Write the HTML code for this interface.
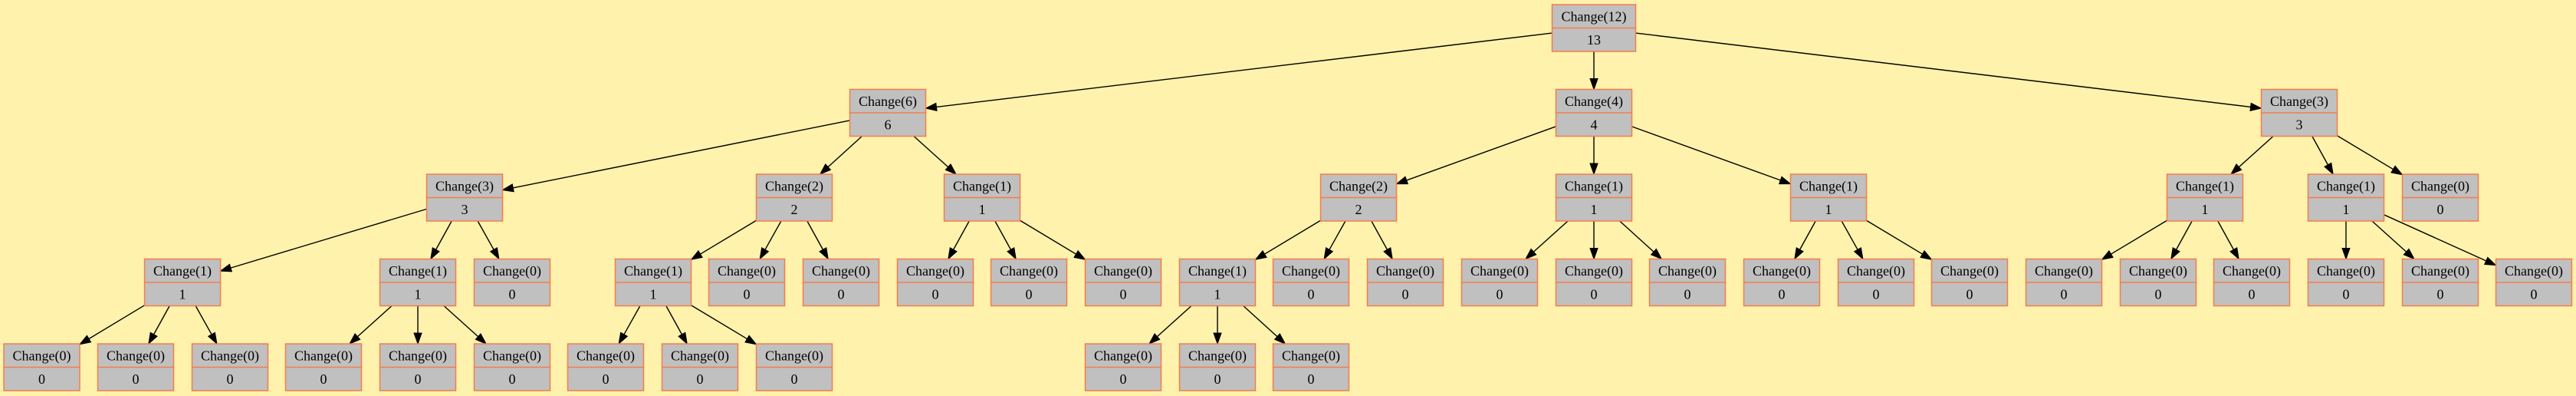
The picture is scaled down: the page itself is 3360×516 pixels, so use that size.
<!DOCTYPE html>
<html><head><meta charset="utf-8"><style>
html,body{margin:0;padding:0;background:#fff2ac;}
svg{display:block}
rect{fill:#c0c0c0;stroke:#f47c4c;stroke-width:1.5}
path.d{stroke:#f47c4c;stroke-width:1.5;fill:none}
text{font-family:"Liberation Serif",serif;font-size:18px;text-anchor:middle;fill:#000}
</style></head><body>
<svg id="s" width="3360" height="516" xmlns="http://www.w3.org/2000/svg">
<rect x="0" y="0" width="3360" height="516" style="fill:#fff2ac;stroke:none"/>
<g id="edges"></g>
<g id="nodes">
<g transform="translate(2079,6)"><rect x="-54.5" width="109" height="61"/><path class="d" d="M-54.5 30.5h109"/><text y="21.5">Change(12)</text><text y="52">13</text></g>

<g transform="translate(1158,116.5)"><rect x="-49.5" width="99" height="61"/><path class="d" d="M-49.5 30.5h99"/><text y="21.5">Change(6)</text><text y="52">6</text></g>
<g transform="translate(2079,116.5)"><rect x="-49.5" width="99" height="61"/><path class="d" d="M-49.5 30.5h99"/><text y="21.5">Change(4)</text><text y="52">4</text></g>
<g transform="translate(2999,116.5)"><rect x="-49.5" width="99" height="61"/><path class="d" d="M-49.5 30.5h99"/><text y="21.5">Change(3)</text><text y="52">3</text></g>

<g transform="translate(606,227)"><rect x="-49.5" width="99" height="61"/><path class="d" d="M-49.5 30.5h99"/><text y="21.5">Change(3)</text><text y="52">3</text></g>
<g transform="translate(1036,227)"><rect x="-49.5" width="99" height="61"/><path class="d" d="M-49.5 30.5h99"/><text y="21.5">Change(2)</text><text y="52">2</text></g>
<g transform="translate(1281,227)"><rect x="-49.5" width="99" height="61"/><path class="d" d="M-49.5 30.5h99"/><text y="21.5">Change(1)</text><text y="52">1</text></g>
<g transform="translate(1772,227)"><rect x="-49.5" width="99" height="61"/><path class="d" d="M-49.5 30.5h99"/><text y="21.5">Change(2)</text><text y="52">2</text></g>
<g transform="translate(2079,227)"><rect x="-49.5" width="99" height="61"/><path class="d" d="M-49.5 30.5h99"/><text y="21.5">Change(1)</text><text y="52">1</text></g>
<g transform="translate(2385,227)"><rect x="-49.5" width="99" height="61"/><path class="d" d="M-49.5 30.5h99"/><text y="21.5">Change(1)</text><text y="52">1</text></g>
<g transform="translate(2876,227)"><rect x="-49.5" width="99" height="61"/><path class="d" d="M-49.5 30.5h99"/><text y="21.5">Change(1)</text><text y="52">1</text></g>
<g transform="translate(3060,227)"><rect x="-49.5" width="99" height="61"/><path class="d" d="M-49.5 30.5h99"/><text y="21.5">Change(1)</text><text y="52">1</text></g>
<g transform="translate(3183,227)"><rect x="-49.5" width="99" height="61"/><path class="d" d="M-49.5 30.5h99"/><text y="21.5">Change(0)</text><text y="52">0</text></g>

<g transform="translate(238,337.5)"><rect x="-49.5" width="99" height="61"/><path class="d" d="M-49.5 30.5h99"/><text y="21.5">Change(1)</text><text y="52">1</text></g>
<g transform="translate(545,337.5)"><rect x="-49.5" width="99" height="61"/><path class="d" d="M-49.5 30.5h99"/><text y="21.5">Change(1)</text><text y="52">1</text></g>
<g transform="translate(668,337.5)"><rect x="-49.5" width="99" height="61"/><path class="d" d="M-49.5 30.5h99"/><text y="21.5">Change(0)</text><text y="52">0</text></g>
<g transform="translate(852,337.5)"><rect x="-49.5" width="99" height="61"/><path class="d" d="M-49.5 30.5h99"/><text y="21.5">Change(1)</text><text y="52">1</text></g>
<g transform="translate(974,337.5)"><rect x="-49.5" width="99" height="61"/><path class="d" d="M-49.5 30.5h99"/><text y="21.5">Change(0)</text><text y="52">0</text></g>
<g transform="translate(1097,337.5)"><rect x="-49.5" width="99" height="61"/><path class="d" d="M-49.5 30.5h99"/><text y="21.5">Change(0)</text><text y="52">0</text></g>
<g transform="translate(1220,337.5)"><rect x="-49.5" width="99" height="61"/><path class="d" d="M-49.5 30.5h99"/><text y="21.5">Change(0)</text><text y="52">0</text></g>
<g transform="translate(1342,337.5)"><rect x="-49.5" width="99" height="61"/><path class="d" d="M-49.5 30.5h99"/><text y="21.5">Change(0)</text><text y="52">0</text></g>
<g transform="translate(1465,337.5)"><rect x="-49.5" width="99" height="61"/><path class="d" d="M-49.5 30.5h99"/><text y="21.5">Change(0)</text><text y="52">0</text></g>
<g transform="translate(1588,337.5)"><rect x="-49.5" width="99" height="61"/><path class="d" d="M-49.5 30.5h99"/><text y="21.5">Change(1)</text><text y="52">1</text></g>
<g transform="translate(1710,337.5)"><rect x="-49.5" width="99" height="61"/><path class="d" d="M-49.5 30.5h99"/><text y="21.5">Change(0)</text><text y="52">0</text></g>
<g transform="translate(1833,337.5)"><rect x="-49.5" width="99" height="61"/><path class="d" d="M-49.5 30.5h99"/><text y="21.5">Change(0)</text><text y="52">0</text></g>
<g transform="translate(1956,337.5)"><rect x="-49.5" width="99" height="61"/><path class="d" d="M-49.5 30.5h99"/><text y="21.5">Change(0)</text><text y="52">0</text></g>
<g transform="translate(2079,337.5)"><rect x="-49.5" width="99" height="61"/><path class="d" d="M-49.5 30.5h99"/><text y="21.5">Change(0)</text><text y="52">0</text></g>
<g transform="translate(2201,337.5)"><rect x="-49.5" width="99" height="61"/><path class="d" d="M-49.5 30.5h99"/><text y="21.5">Change(0)</text><text y="52">0</text></g>
<g transform="translate(2324,337.5)"><rect x="-49.5" width="99" height="61"/><path class="d" d="M-49.5 30.5h99"/><text y="21.5">Change(0)</text><text y="52">0</text></g>
<g transform="translate(2447,337.5)"><rect x="-49.5" width="99" height="61"/><path class="d" d="M-49.5 30.5h99"/><text y="21.5">Change(0)</text><text y="52">0</text></g>
<g transform="translate(2569,337.5)"><rect x="-49.5" width="99" height="61"/><path class="d" d="M-49.5 30.5h99"/><text y="21.5">Change(0)</text><text y="52">0</text></g>
<g transform="translate(2692,337.5)"><rect x="-49.5" width="99" height="61"/><path class="d" d="M-49.5 30.5h99"/><text y="21.5">Change(0)</text><text y="52">0</text></g>
<g transform="translate(2815,337.5)"><rect x="-49.5" width="99" height="61"/><path class="d" d="M-49.5 30.5h99"/><text y="21.5">Change(0)</text><text y="52">0</text></g>
<g transform="translate(2937,337.5)"><rect x="-49.5" width="99" height="61"/><path class="d" d="M-49.5 30.5h99"/><text y="21.5">Change(0)</text><text y="52">0</text></g>
<g transform="translate(3060,337.5)"><rect x="-49.5" width="99" height="61"/><path class="d" d="M-49.5 30.5h99"/><text y="21.5">Change(0)</text><text y="52">0</text></g>
<g transform="translate(3183,337.5)"><rect x="-49.5" width="99" height="61"/><path class="d" d="M-49.5 30.5h99"/><text y="21.5">Change(0)</text><text y="52">0</text></g>
<g transform="translate(3305,337.5)"><rect x="-49.5" width="99" height="61"/><path class="d" d="M-49.5 30.5h99"/><text y="21.5">Change(0)</text><text y="52">0</text></g>

<g transform="translate(54.5,448)"><rect x="-49.5" width="99" height="61"/><path class="d" d="M-49.5 30.5h99"/><text y="21.5">Change(0)</text><text y="52">0</text></g>
<g transform="translate(177,448)"><rect x="-49.5" width="99" height="61"/><path class="d" d="M-49.5 30.5h99"/><text y="21.5">Change(0)</text><text y="52">0</text></g>
<g transform="translate(300,448)"><rect x="-49.5" width="99" height="61"/><path class="d" d="M-49.5 30.5h99"/><text y="21.5">Change(0)</text><text y="52">0</text></g>
<g transform="translate(422,448)"><rect x="-49.5" width="99" height="61"/><path class="d" d="M-49.5 30.5h99"/><text y="21.5">Change(0)</text><text y="52">0</text></g>
<g transform="translate(545,448)"><rect x="-49.5" width="99" height="61"/><path class="d" d="M-49.5 30.5h99"/><text y="21.5">Change(0)</text><text y="52">0</text></g>
<g transform="translate(668,448)"><rect x="-49.5" width="99" height="61"/><path class="d" d="M-49.5 30.5h99"/><text y="21.5">Change(0)</text><text y="52">0</text></g>
<g transform="translate(790,448)"><rect x="-49.5" width="99" height="61"/><path class="d" d="M-49.5 30.5h99"/><text y="21.5">Change(0)</text><text y="52">0</text></g>
<g transform="translate(913,448)"><rect x="-49.5" width="99" height="61"/><path class="d" d="M-49.5 30.5h99"/><text y="21.5">Change(0)</text><text y="52">0</text></g>
<g transform="translate(1036,448)"><rect x="-49.5" width="99" height="61"/><path class="d" d="M-49.5 30.5h99"/><text y="21.5">Change(0)</text><text y="52">0</text></g>
<g transform="translate(1465,448)"><rect x="-49.5" width="99" height="61"/><path class="d" d="M-49.5 30.5h99"/><text y="21.5">Change(0)</text><text y="52">0</text></g>
<g transform="translate(1588,448)"><rect x="-49.5" width="99" height="61"/><path class="d" d="M-49.5 30.5h99"/><text y="21.5">Change(0)</text><text y="52">0</text></g>
<g transform="translate(1710,448)"><rect x="-49.5" width="99" height="61"/><path class="d" d="M-49.5 30.5h99"/><text y="21.5">Change(0)</text><text y="52">0</text></g>
</g>
</svg>
<script>
(function(){
var L=[6,116.5,227,337.5,448];
// [parentX, parentLevel, parentHalfW, childX, childLevel]
var E=[
[2079,0,54.5,1158,1],[2079,0,54.5,2079,1],[2079,0,54.5,2999,1],
[1158,1,49.5,606,2],[1158,1,49.5,1036,2],[1158,1,49.5,1281,2],
[2079,1,49.5,1772,2],[2079,1,49.5,2079,2],[2079,1,49.5,2385,2],
[2999,1,49.5,2876,2],[2999,1,49.5,3060,2],[2999,1,49.5,3183,2],
[606,2,49.5,238,3],[606,2,49.5,545,3],[606,2,49.5,668,3],
[1036,2,49.5,852,3],[1036,2,49.5,974,3],[1036,2,49.5,1097,3],
[1281,2,49.5,1220,3],[1281,2,49.5,1342,3],[1281,2,49.5,1465,3],
[1772,2,49.5,1588,3],[1772,2,49.5,1710,3],[1772,2,49.5,1833,3],
[2079,2,49.5,1956,3],[2079,2,49.5,2079,3],[2079,2,49.5,2201,3],
[2385,2,49.5,2324,3],[2385,2,49.5,2447,3],[2385,2,49.5,2569,3],
[2876,2,49.5,2692,3],[2876,2,49.5,2815,3],[2876,2,49.5,2937,3],
[3060,2,49.5,3060,3],[3060,2,49.5,3183,3],[3060,2,49.5,3305,3],
[238,3,49.5,54.5,4],[238,3,49.5,177,4],[238,3,49.5,300,4],
[545,3,49.5,422,4],[545,3,49.5,545,4],[545,3,49.5,668,4],
[852,3,49.5,790,4],[852,3,49.5,913,4],[852,3,49.5,1036,4],
[1588,3,49.5,1465,4],[1588,3,49.5,1588,4],[1588,3,49.5,1710,4]
];
var g=document.getElementById('edges'),ns='http://www.w3.org/2000/svg',h='';
E.forEach(function(e){
 var px=e[0],py=L[e[1]]+30.5,cx=e[3],cy=L[e[4]]+30.5,hw=e[2];
 var dx=cx-px,dy=cy-py,len=Math.sqrt(dx*dx+dy*dy),ux=dx/len,uy=dy/len;
 var tp=Math.min(Math.abs(dx)>0?hw/Math.abs(dx):1e9,30.5/Math.abs(dy));
 var tc=Math.min(Math.abs(dx)>0?49.5/Math.abs(dx):1e9,30.5/Math.abs(dy));
 var sx=px+dx*tp,sy=py+dy*tp,ex=cx-dx*tc,ey=cy-dy*tc;
 var bx=ex-ux*14,by=ey-uy*14,nx=-uy*5,ny=ux*5;
 h+='<line x1="'+sx+'" y1="'+sy+'" x2="'+bx+'" y2="'+by+'" stroke="#000" stroke-width="1.4"/>';
 h+='<polygon points="'+ex+','+ey+' '+(bx+nx)+','+(by+ny)+' '+(bx-nx)+','+(by-ny)+'" fill="#000" stroke="#000" stroke-width="1"/>';
});
g.innerHTML=h;
})();
</script>
</body></html>
